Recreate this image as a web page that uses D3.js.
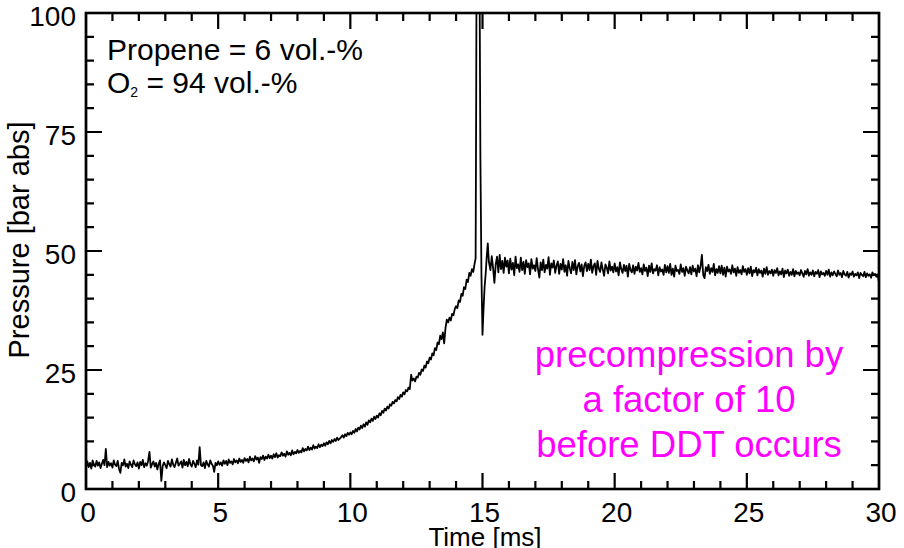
<!DOCTYPE html>
<html><head><meta charset="utf-8">
<script src="https://cdn.jsdelivr.net/npm/d3@7"></script>
<style>
html,body{margin:0;padding:0;background:#fff;}
svg{display:block;font-family:"Liberation Sans",Arial,sans-serif;}
</style></head>
<body>
<svg id="c" width="904" height="548"></svg>
<script>
// ---- data ----
const xMajorTicks = [0, 5, 10, 15, 20, 25, 30];
const yMajorTicks = [0, 25, 50, 75, 100];
const xTitle = "Time [ms]";
const yTitle = "Pressure [bar abs]";
const annotationLines = ["precompression by", "a factor of 10", "before DDT occurs"];

// pre-detonation trace, sampled every 0.05 ms from 0.00 to 14.70 ms
const preStart = 0.0, preStep = 0.05;
const preValues = [
  5.1, 5.8, 4.6, 5.5, 4.3, 6.0, 5.2, 4.7, 5.9, 4.9, 5.6, 4.4, 5.3, 6.1, 5.0, 8.4, 4.6, 5.7, 4.9, 5.4,
  4.5, 6.0, 5.1, 4.8, 5.9, 4.2, 3.4, 5.5, 5.0, 6.2, 4.7, 5.3, 4.4, 5.8, 5.1, 4.6, 6.0, 5.2, 4.8, 5.6,
  4.3, 5.7, 5.0, 6.1, 4.6, 5.4, 4.9, 5.9, 7.8, 4.5, 5.2, 5.8, 4.7, 5.5, 4.1, 5.3, 6.0, 1.7, 4.8, 5.6,
  5.0, 4.4, 5.9, 5.2, 4.7, 6.2, 5.1, 4.6, 5.5, 6.4, 4.9, 5.3, 5.8, 4.5, 6.1, 5.0, 5.7, 4.8, 6.3, 5.2,
  4.7, 5.9, 5.3, 4.6, 6.0, 5.1, 8.8, 5.0, 4.8, 5.6, 4.4, 5.9, 5.2, 4.7, 6.0, 5.3, 4.9, 3.6, 5.5, 5.0,
  5.8, 5.1, 5.6, 4.9, 6.0, 5.3, 5.9, 5.0, 6.2, 5.5, 5.8, 5.2, 6.3, 5.6, 6.0, 5.4, 6.4, 5.7, 6.1, 5.5,
  6.5, 5.9, 6.3, 5.6, 6.8, 6.0, 6.4, 5.8, 6.9, 6.2, 6.6, 5.5, 6.7, 6.3, 7.0, 6.1, 6.8, 6.4, 7.2, 6.5,
  7.0, 6.4, 7.3, 6.7, 7.5, 6.6, 7.1, 6.9, 7.7, 7.0, 7.4, 6.8, 7.9, 7.2, 7.6, 7.1, 8.1, 7.3, 7.8, 7.5,
  8.2, 7.6, 8.0, 7.7, 8.6, 7.9, 8.4, 8.1, 8.9, 8.2, 8.7, 8.3, 9.2, 8.5, 8.9, 8.6, 9.4, 8.8, 9.3, 9.0,
  9.6, 9.1, 9.8, 9.4, 10.1, 9.6, 10.3, 9.9, 10.5, 10.1, 10.8, 10.3, 10.6, 10.9, 11.3, 10.8, 11.5, 11.1, 11.8, 11.4,
  11.9, 11.5, 12.2, 11.8, 12.6, 12.1, 12.9, 12.5, 13.3, 12.8, 13.6, 13.1, 14.0, 13.5, 14.4, 14.0, 14.8, 14.3, 15.2, 14.7,
  15.4, 15.0, 15.9, 15.5, 16.4, 16.0, 16.9, 16.5, 17.3, 16.9, 17.8, 17.5, 18.3, 18.0, 18.7, 18.4, 19.3, 18.9, 19.8, 19.4,
  20.3, 19.9, 20.8, 20.5, 21.3, 21.0, 24.0, 22.8, 23.2, 22.6, 23.6, 23.4, 24.4, 24.0, 25.1, 24.8, 25.9, 25.5, 26.8, 26.4,
  27.6, 27.2, 28.5, 28.1, 29.6, 29.2, 30.8, 30.4, 32.2, 31.5, 32.9, 30.6, 33.8, 35.6, 35.0, 36.0, 35.4, 36.8, 36.5, 37.8,
  38.4, 38.0, 39.6, 39.3, 41.0, 40.6, 42.4, 42.0, 44.0, 43.5, 45.4, 44.8, 46.2, 45.6, 47.3
];

// detonation spike (explicit times)
const spikeTimes  = [14.74, 14.76, 14.78, 14.84, 14.88, 14.92, 14.96, 15.00, 15.04, 15.08, 15.12, 15.16, 15.20, 15.24];
const spikeValues = [48.5, 80, 120, 130, 118, 70, 45, 32.4, 38, 42.5, 45.2, 48.8, 51.6, 47.8];

// post-detonation trace, sampled every 0.05 ms from 15.30 to 30.00 ms
const postStart = 15.3, postStep = 0.05;
const postValues = [
  46.0, 48.9, 46.5, 43.3, 47.2, 48.8, 45.5, 49.2, 46.2, 47.9, 45.4, 48.6, 46.7, 48.0,
  45.3, 48.4, 46.1, 47.5, 44.9, 48.8, 46.4, 47.2, 45.6, 48.6, 46.0, 47.7, 45.2, 48.1, 46.6, 47.4, 45.1, 48.3, 46.3, 47.0,
  45.8, 48.5, 46.2, 44.4, 47.6, 46.0, 48.2, 45.5, 47.1, 46.3, 48.7, 45.0, 47.4, 46.5, 48.0, 45.4, 46.9, 47.8, 45.2, 47.3,
  46.1, 48.3, 45.6, 47.0, 44.8, 47.9, 46.4, 45.3, 47.7, 46.0, 48.1, 45.1, 46.8, 47.5, 45.7, 47.2, 44.7, 46.9, 47.6, 45.8,
  47.3, 46.0, 48.2, 45.4, 46.8, 47.4, 45.0, 47.9, 46.3, 45.6, 47.6, 46.1, 44.8, 47.2, 46.5, 45.3, 47.8, 45.9, 46.7, 45.5,
  47.4, 45.7, 46.6, 44.9, 47.6, 46.2, 45.4, 47.1, 45.8, 46.9, 44.6, 47.3, 46.0, 45.5, 47.0, 45.2, 46.7, 45.9, 47.5, 45.6,
  46.4, 45.1, 47.2, 45.8, 46.5, 44.7, 46.9, 45.6, 47.4, 45.3, 46.2, 45.9, 47.0, 44.9, 46.6, 45.7, 46.1, 45.0, 47.1, 45.5,
  46.8, 45.4, 47.3, 45.0, 46.3, 44.6, 46.9, 45.8, 46.0, 45.2, 47.2, 45.6, 46.4, 44.8, 46.7, 45.9, 45.3, 46.6, 45.1, 46.9,
  45.7, 46.3, 44.7, 47.0, 45.5, 46.8, 49.2, 45.0, 44.3, 46.6, 45.8, 47.1, 45.2, 46.4, 45.6, 47.3, 44.9, 46.2, 45.4, 46.8,
  45.3, 46.9, 45.0, 46.5, 44.6, 46.7, 45.7, 46.1, 45.2, 47.0, 45.5, 46.3, 44.8, 46.6, 45.4, 46.0, 45.1, 46.8, 45.6, 46.2,
  45.0, 46.4, 45.3, 46.7, 44.7, 46.0, 45.5, 46.5, 44.9, 46.2, 45.4, 45.9, 44.6, 46.3, 45.2, 46.6, 45.0, 45.8, 45.3, 46.1,
  44.8, 46.0, 45.4, 46.4, 44.9, 45.7, 45.1, 46.3, 44.5, 45.9, 45.3, 46.1, 44.8, 45.6, 45.0, 46.2, 44.7, 45.8, 45.2, 45.5,
  44.9, 46.0, 45.3, 44.6, 45.8, 45.1, 46.2, 44.8, 45.5, 45.0, 45.9, 44.7, 45.6, 45.2, 46.0, 44.5, 45.7, 45.1, 45.4, 44.8,
  45.8, 45.0, 46.1, 44.6, 45.5, 44.9, 45.7, 45.2, 44.7, 45.9, 45.0, 45.4, 44.5, 45.8, 45.1, 44.8, 45.6, 44.4, 45.3, 45.0,
  45.7, 44.6, 45.2, 44.9, 45.5, 44.3, 45.4, 45.0, 44.7, 45.6, 44.5, 45.3, 44.8, 45.1, 44.4, 45.5, 44.9, 45.2, 44.6, 45.0,
  43.4
];

// ---- build series ----
const series = [];
preValues.forEach((v, i) => series.push({t: +(preStart + i * preStep).toFixed(3), v}));
spikeTimes.forEach((t, i) => series.push({t, v: spikeValues[i]}));
postValues.forEach((v, i) => series.push({t: +(postStart + i * postStep).toFixed(3), v}));

// ---- layout ----
const L = 86, R = 879, T = 13, B = 489;
const svg = d3.select("#c");
const xs = d3.scaleLinear().domain([0, 30]).range([L, R]);
const ys = d3.scaleLinear().domain([0, 100]).range([B, T]);

const xMinor = d3.range(0, 31, 1).filter(d => d % 5 !== 0);
const yMinor = d3.range(0, 101, 5).filter(d => d % 25 !== 0);

// trace, clipped to the plot area by a nested svg viewport
const plot = svg.append("svg").attr("x", L).attr("y", T).attr("width", R - L).attr("height", B - T)
  .attr("viewBox", `${L} ${T} ${R - L} ${B - T}`).attr("overflow", "hidden");
const line = d3.line().x(d => xs(d.t)).y(d => ys(d.v));
plot.append("path").datum(series)
  .attr("d", line)
  .attr("fill", "none")
  .attr("stroke", "#000")
  .attr("stroke-width", 1.8)
  .attr("stroke-linejoin", "round");

// tick labels
svg.append("g").attr("font-size", 28).attr("text-anchor", "middle").attr("fill", "#000")
  .selectAll("text").data(xMajorTicks).join("text")
  .attr("x", d => xs(d) + 2).attr("y", B + 33).text(d3.format("d"));
svg.append("g").attr("font-size", 28).attr("text-anchor", "end").attr("fill", "#000")
  .selectAll("text").data(yMajorTicks).join("text")
  .attr("x", L - 10).attr("y", d => ys(d) + 13).text(d3.format("d"));

// legend text
const leg = svg.append("g").attr("font-size", 30).attr("fill", "#000");
leg.append("text").attr("x", 107).attr("y", 60).text("Propene = 6 vol.-%");
const t2 = leg.append("text").attr("x", 107).attr("y", 93);
t2.append("tspan").text("O");
t2.append("tspan").attr("font-size", 14).attr("dy", 4).text("2");
t2.append("tspan").attr("dy", -4).text(" = 94 vol.-%");

// annotation
const ann = svg.append("g").attr("font-size", 36.5).attr("fill", "#ff00ff").attr("text-anchor", "middle");
annotationLines.forEach((s, i) => {
  ann.append("text").attr("x", 689).attr("y", 367 + i * 45).text(s);
});

// axis titles
svg.append("text").attr("x", 485).attr("y", 546).attr("text-anchor", "middle")
  .attr("font-size", 26).text(xTitle);
svg.append("text").attr("transform", "translate(29,240) rotate(-90)").attr("text-anchor", "middle")
  .attr("font-size", 29).text(yTitle);

// frame + inward tick marks on all four sides, as one path built from the scales
const MAJ = 16, MIN = 8;
const fp = d3.path();
fp.rect(L, T, R - L, B - T);
function addV(vals, len) {
  vals.forEach(d => {
    fp.moveTo(xs(d), B); fp.lineTo(xs(d), B - len);
    fp.moveTo(xs(d), T); fp.lineTo(xs(d), T + len);
  });
}
function addH(vals, len) {
  vals.forEach(d => {
    fp.moveTo(L, ys(d)); fp.lineTo(L + len, ys(d));
    fp.moveTo(R, ys(d)); fp.lineTo(R - len, ys(d));
  });
}
addV(xMajorTicks, MAJ);
addV(xMinor, MIN);
addH(yMajorTicks, MAJ);
addH(yMinor, MIN);
svg.append("path").attr("d", fp.toString())
  .attr("fill", "none").attr("stroke", "#000").attr("stroke-width", 2.2);

// heavier outline of the frame
svg.append("rect").attr("x", L).attr("y", T).attr("width", R - L).attr("height", B - T)
  .attr("fill", "none").attr("stroke", "#000").attr("stroke-width", 2.6);
</script>
</body></html>
